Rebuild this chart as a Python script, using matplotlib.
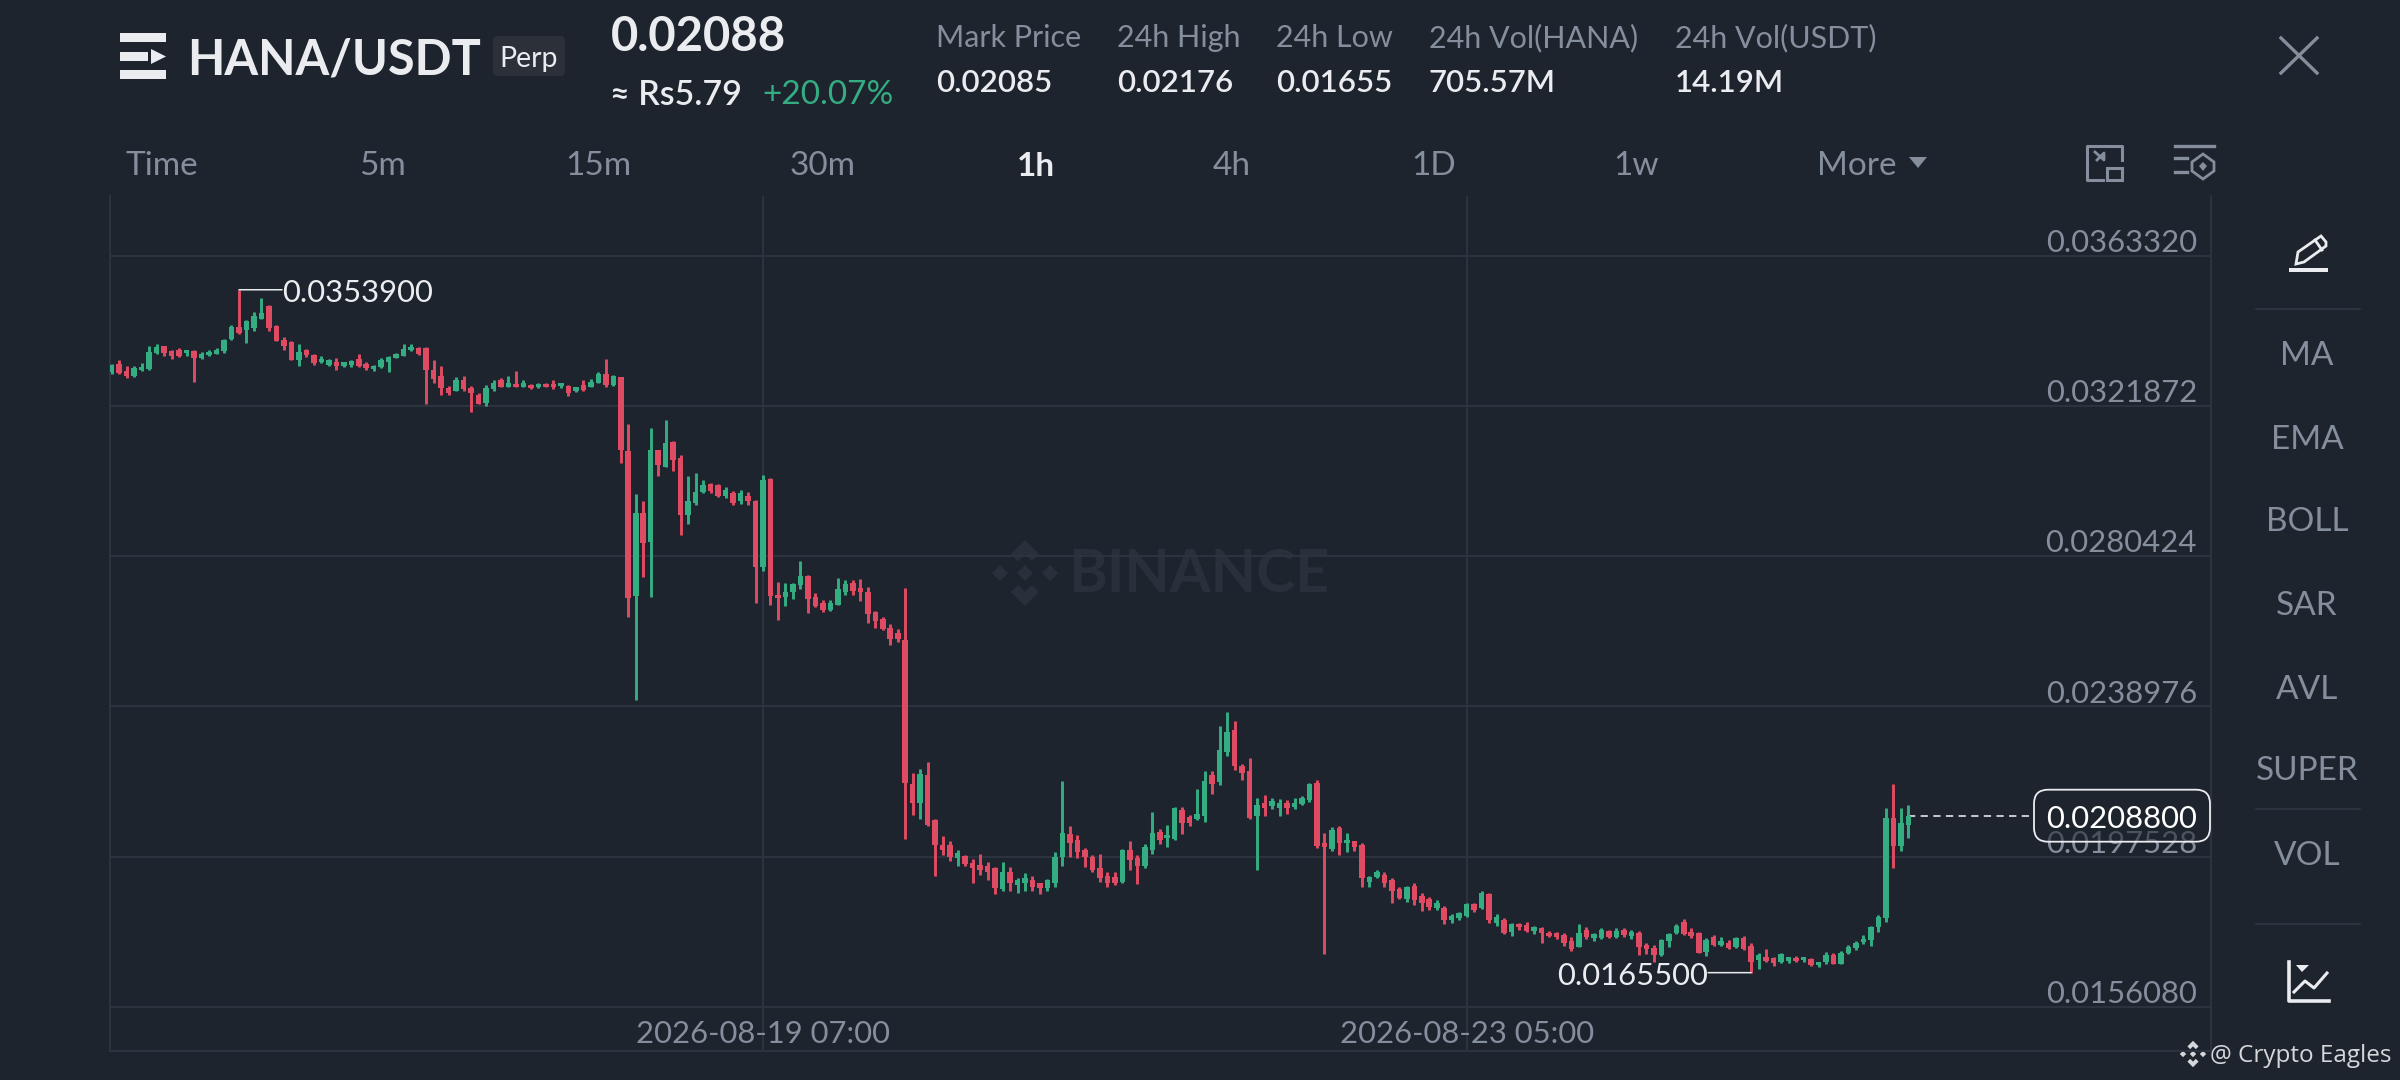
import numpy as np
import matplotlib
matplotlib.use("Agg")
import matplotlib.pyplot as plt
from matplotlib.patches import FancyBboxPatch, Polygon, Rectangle

plt.rcParams['font.family'] = ['Lato', 'DejaVu Sans']

# candle values, in units of 0.00001 USDT
opens = [
    3311,3335,3314,3302,3317,3320,3364,3383,3369,3372,
    3364,3369,3351,3359,3363,3369,3403,3435,3429,3433,
    3458,3493,3438,3401,3395,3344,3372,3360,3339,3332,
    3341,3329,3332,3348,3335,3320,3326,3341,3352,3357,
    3372,3377,3377,3318,3300,3268,3261,3291,3268,3249,
    3226,3265,3289,3271,3280,3272,3277,3271,3280,3280,
    3274,3274,3260,3277,3272,3283,3307,3277,3298,3093,
    2694,2924,2842,3096,3051,3119,3074,2918,2950,2980,
    3003,3000,2969,2978,2955,2969,2956,2775,3016,2697,
    2691,2705,2725,2750,2691,2674,2656,2670,2706,2729,
    2717,2706,2649,2630,2605,2591,2573,2176,2122,2201,
    2075,2007,2007,1971,1977,1957,1952,1948,1943,1885,
    1934,1897,1902,1911,1902,1888,1902,1975,2038,2021,
    1994,1973,1943,1922,1920,1906,1992,1972,1948,1994,
    2044,2026,2023,2104,2084,2078,2087,2201,2182,2265,
    2325,2224,2210,2087,2122,2115,2109,2124,2111,2120,
    2132,2178,2012,1995,2053,2012,2017,2007,1906,1918,
    1925,1911,1885,1857,1894,1867,1857,1833,1834,1800,
    1805,1810,1845,1833,1872,1793,1800,1768,1789,1787,
    1771,1777,1764,1764,1759,1741,1727,1773,1750,1750,
    1770,1754,1773,1756,1764,1731,1722,1704,1741,1764,
    1796,1768,1765,1713,1754,1730,1736,1725,1750,1729,
    1690,1699,1695,1685,1687,1696,1690,1692,1676,1685,
    1703,1680,1708,1722,1740,1745,1782,1805,2081,2004,2062,
]
closes = [
    3331,3309,3300,3322,3326,3366,3381,3364,3357,3355,
    3372,3351,3363,3368,3374,3401,3435,3421,3452,3466,
    3475,3433,3398,3383,3346,3366,3360,3337,3348,3344,
    3328,3339,3343,3329,3323,3329,3346,3353,3362,3375,
    3380,3363,3317,3294,3268,3254,3291,3265,3254,3225,
    3268,3283,3272,3283,3272,3283,3268,3280,3271,3270,
    3282,3254,3271,3263,3285,3307,3276,3302,3097,2688,
    2924,2840,3097,3056,3116,3068,2918,2957,2980,3001,
    2985,2969,2987,2950,2978,2955,2774,3015,2693,2688,
    2704,2728,2748,2685,2667,2656,2674,2713,2728,2709,
    2705,2645,2624,2602,2575,2575,2178,2122,2203,2063,
    2007,1994,1975,1984,1955,1943,1938,1934,1888,1934,
    1902,1911,1915,1892,1888,1911,1975,2040,2012,1989,
    1973,1938,1915,1903,1902,1992,1966,1949,2001,2040,
    2021,2035,2109,2067,2069,2093,2185,2176,2270,2320,
    2224,2205,2081,2118,2109,2129,2124,2109,2124,2136,
    2176,2005,2003,2049,2012,2021,2003,1915,1918,1934,
    1902,1879,1860,1891,1856,1846,1835,1848,1799,1810,
    1819,1845,1828,1874,1800,1808,1765,1789,1780,1771,
    1780,1764,1756,1753,1736,1719,1764,1753,1762,1773,
    1754,1771,1758,1767,1727,1719,1704,1745,1762,1785,
    1762,1756,1710,1745,1730,1741,1722,1750,1719,1685,
    1704,1688,1681,1706,1697,1687,1697,1676,1684,1704,
    1680,1710,1726,1738,1749,1780,1809,2081,2004,2067,2088,
]
highs = [
    3335,3346,3329,3329,3337,3383,3390,3385,3374,3378,
    3374,3372,3366,3372,3379,3403,3443,3539,3456,3478,
    3515,3498,3443,3409,3397,3390,3376,3363,3355,3348,
    3351,3341,3346,3363,3341,3332,3351,3355,3364,3390,
    3390,3381,3380,3346,3329,3274,3298,3302,3274,3254,
    3276,3291,3296,3300,3314,3289,3280,3282,3283,3289,
    3283,3277,3272,3289,3293,3311,3349,3305,3298,3169,
    2976,2955,3157,3097,3180,3122,3082,3026,3033,3015,
    3007,3004,2994,2985,2987,2980,2958,3027,3021,2732,
    2729,2729,2792,2751,2702,2682,2683,2745,2737,2737,
    2740,2720,2653,2637,2617,2602,2716,2205,2216,2237,
    2078,2032,2017,1994,1980,1968,1982,1960,1946,1961,
    1946,1917,1929,1922,1903,1914,1987,2185,2060,2035,
    1998,1980,1982,1934,1934,1995,2017,1980,2009,2098,
    2051,2061,2111,2111,2090,2161,2211,2210,2336,2374,
    2348,2231,2247,2136,2145,2138,2134,2130,2138,2143,
    2179,2187,2041,2058,2060,2040,2019,2012,1922,1938,
    1932,1915,1892,1894,1903,1874,1865,1856,1839,1817,
    1823,1848,1848,1881,1876,1817,1805,1793,1791,1794,
    1785,1780,1771,1767,1765,1753,1788,1780,1765,1779,
    1773,1779,1779,1773,1769,1736,1730,1747,1765,1788,
    1802,1777,1768,1750,1759,1752,1745,1754,1756,1736,
    1710,1719,1699,1710,1699,1701,1699,1695,1685,1713,
    1710,1714,1730,1742,1759,1783,1813,2110,2176,2108,2117,
]
lows = [
    3307,3307,3295,3298,3315,3318,3361,3355,3349,3353,
    3355,3285,3348,3357,3361,3364,3401,3418,3392,3426,
    3458,3424,3397,3374,3344,3328,3353,3332,3337,3328,
    3317,3326,3326,3326,3317,3314,3323,3311,3350,3355,
    3370,3360,3225,3283,3249,3248,3260,3261,3201,3223,
    3219,3259,3271,3270,3270,3270,3265,3269,3270,3266,
    3268,3247,3256,3261,3271,3282,3272,3274,3062,2636,
    2406,2746,2691,3026,3050,3040,2862,2893,2944,2977,
    2978,2967,2965,2945,2949,2945,2674,2764,2669,2628,
    2667,2685,2713,2647,2665,2651,2654,2668,2698,2698,
    2681,2621,2607,2600,2560,2567,2023,2090,2078,2060,
    1922,1980,1963,1949,1950,1902,1925,1911,1871,1879,
    1879,1874,1879,1879,1872,1881,1892,1950,1975,1972,
    1946,1934,1904,1891,1897,1903,1938,1900,1943,1983,
    2009,2003,2021,2038,2060,2076,2072,2148,2173,2253,
    2213,2187,2078,1938,2087,2106,2087,2093,2106,2118,
    2127,2000,1706,1991,1980,1987,1991,1892,1892,1915,
    1892,1848,1858,1851,1841,1826,1828,1828,1789,1791,
    1800,1808,1821,1831,1793,1785,1762,1756,1773,1767,
    1762,1738,1754,1749,1729,1715,1725,1749,1743,1748,
    1751,1751,1754,1749,1704,1707,1685,1702,1725,1762,
    1759,1750,1708,1701,1729,1729,1720,1722,1718,1655,
    1664,1684,1672,1681,1681,1685,1684,1673,1670,1679,
    1678,1679,1706,1717,1734,1728,1766,1795,1943,1991,2027,
]

price_ticks = [0.0363320, 0.0321872, 0.0280424, 0.0238976, 0.0197528, 0.0156080]
time_labels = ['2026-08-19 07:00', '2026-08-23 05:00']
time_hours = [0, 94]   # hours from the first date label
first_hour = -87       # the first candle, relative to the same label
last_price = 0.0208800

tabs = ['Time', '5m', '15m', '30m', '1h', '4h', '1D', '1w', 'More']
tab_x = [162, 383, 598, 823, 1036, 1232, 1434, 1636, 1857]
stat_names = ['Mark Price', '24h High', '24h Low', '24h Vol(HANA)', '24h Vol(USDT)']
stat_values = ['0.02085', '0.02176', '0.01655', '705.57M', '14.19M']
stat_x = [936, 1117, 1276, 1429, 1675]
indicators = ['MA', 'EMA', 'BOLL', 'SAR', 'AVL', 'SUPER', 'VOL']
indicator_y = [356, 440, 522, 606, 690, 771, 856]

BG = '#1e242e'
GRID = '#2e3440'
MUTED = '#848e9c'
WHITE = '#eaecef'
UP = '#35ad83'
DOWN = '#df4b62'
NUM_SIZE = 22.3

W, H = 2400, 1080
fig = plt.figure(figsize=(24, 10.8), dpi=100, facecolor=BG)

# screen furniture is laid out in pixels on a full-figure axes
ui = fig.add_axes([0, 0, 1, 1], zorder=0)
ui.set_xlim(0, W)
ui.set_ylim(H, 0)
ui.axis('off')

# chart axes: 110..2211 px across, 196..1050.7 px down
left, right, top, bottom = 110, 2211, 196, 1050.7
ax = fig.add_axes([left / W, 1 - bottom / H, (right - left) / W, (bottom - top) / H], zorder=1)
ax.patch.set_alpha(0)

px_per_hour = 7.486
px_per_price = 150.24 / 0.0041448
x0 = 763
y0 = 255.6
ax.set_xlim((left - x0) / px_per_hour, (right - x0) / px_per_hour)
ax.set_ylim(price_ticks[0] - (bottom - y0) / px_per_price, price_ticks[0] + (y0 - top) / px_per_price)

ax.set_yticks(price_ticks)
ax.set_xticks(time_hours)
ax.grid(True, color=GRID, lw=1.3)
ax.set_axisbelow(True)
ax.tick_params(length=0, labelleft=False, labelbottom=False)
for s in ['left', 'right', 'bottom']:
    ax.spines[s].set_color(GRID)
    ax.spines[s].set_linewidth(1.3)
ax.spines['top'].set_visible(False)

for p in price_ticks:
    ax.annotate(f'{p:.7f}', xy=(1, p), xycoords=('axes fraction', 'data'), xytext=(-10, 9.2),
                textcoords='offset points', ha='right', va='center', color=MUTED, fontsize=NUM_SIZE)
for h, lab in zip(time_hours, time_labels):
    ax.annotate(lab, xy=(h, 0), xycoords=('data', 'axes fraction'), xytext=(0, 12),
                textcoords='offset points', ha='center', va='center', color=MUTED, fontsize=NUM_SIZE)


def logo(target, cx, cy, s, color):
    # five part exchange mark, s=1 spans about 66 px
    parts = [[(0, -33), (14, -19), (7, -12), (0, -19), (-7, -12), (-14, -19)],
             [(-25, -8), (-17, 0), (-25, 8), (-33, 0)],
             [(25, -8), (33, 0), (25, 8), (17, 0)],
             [(0, -8), (8, 0), (0, 8), (-8, 0)],
             [(0, 33), (-14, 19), (-7, 12), (0, 19), (7, 12), (14, 19)]]
    for part in parts:
        target.add_patch(Polygon([(cx + a * s, cy + b * s) for a, b in part], closed=True, fc=color, ec='none'))


# watermark behind the candles
ui.text(1199, 575, 'BINANCE', color='#2a303b', fontsize=42.5, fontweight='bold', ha='center', va='center')
logo(ui, 1025, 573, 1.0, '#2a303b')

o = np.array(opens) * 1e-5
c = np.array(closes) * 1e-5
hi = np.array(highs) * 1e-5
lo = np.array(lows) * 1e-5
t = first_hour + np.arange(len(o))
cols = [UP if cc >= oo else DOWN for oo, cc in zip(o, c)]

ax.vlines(t, lo, hi, colors=cols, lw=2.1, zorder=3)
ax.bar(t, np.maximum(np.abs(c - o), 0.00004), bottom=np.minimum(o, c), width=0.74, color=cols, zorder=3)

# highest and lowest price tags
i_hi = int(np.argmax(hi))
ax.annotate('', xy=(t[i_hi], hi[i_hi]), xytext=(31, 0), textcoords='offset points',
            arrowprops=dict(arrowstyle='-', color=WHITE, lw=1.1, shrinkA=0, shrinkB=0))
ax.annotate(f'{hi[i_hi]:.7f}', xy=(t[i_hi], hi[i_hi]), xytext=(31, -2.2), textcoords='offset points',
            color=WHITE, fontsize=NUM_SIZE, ha='left', va='center')
i_lo = int(np.argmin(lo))
ax.annotate('', xy=(t[i_lo], lo[i_lo]), xytext=(-31, 0), textcoords='offset points',
            arrowprops=dict(arrowstyle='-', color=WHITE, lw=1.1, shrinkA=0, shrinkB=0))
ax.annotate(f'{lo[i_lo]:.7f}', xy=(t[i_lo], lo[i_lo]), xytext=(-31, -2.2), textcoords='offset points',
            color=WHITE, fontsize=NUM_SIZE, ha='right', va='center')

# last price line and tag
ax.plot([t[-1], (2030 - x0) / px_per_hour], [last_price, last_price], color='#d5d8dc', lw=1.3,
        dashes=(4, 3), zorder=2)
y_last = y0 + (price_ticks[0] - last_price) * px_per_price
over = fig.add_axes([0, 0, 1, 1], zorder=2)
over.set_xlim(0, W)
over.set_ylim(H, 0)
over.axis('off')
over.add_patch(FancyBboxPatch((2034, y_last - 26), 176, 52, boxstyle='round,pad=0,rounding_size=14',
                              fc=BG, ec='none', alpha=0.55))
over.add_patch(FancyBboxPatch((2034, y_last - 26), 176, 52, boxstyle='round,pad=0,rounding_size=14',
                              fc='none', ec=WHITE, lw=1.3))
over.text(2197, y_last + 3, f'{last_price:.7f}', color='white', fontsize=NUM_SIZE, ha='right', va='center')

# header
for y_, h_ in [(33, 9), (70, 9)]:
    ui.add_patch(Rectangle((120, y_), 46, h_, fc=WHITE, ec='none'))
ui.add_patch(Rectangle((120, 52), 28, 9, fc=WHITE, ec='none'))
ui.add_patch(Polygon([(151, 49), (166, 56.5), (151, 64)], closed=True, fc=WHITE, ec='none'))
ui.text(187, 60, 'HANA/USDT', color=WHITE, fontsize=35, fontweight='bold', ha='left', va='center')
ui.add_patch(FancyBboxPatch((493, 36), 72, 40, boxstyle='round,pad=0,rounding_size=5', fc='#2b3039', ec='none'))
ui.text(529, 59, 'Perp', color=WHITE, fontsize=20.5, ha='center', va='center')
ui.text(611, 37, '0.02088', color=WHITE, fontsize=34, fontweight='bold', ha='left', va='center')
ui.text(610, 95, '≈ Rs5.79', color=WHITE, fontsize=24.5, fontweight='semibold', ha='left', va='center')
ui.text(762, 95, '+20.07%', color=UP, fontsize=24, ha='left', va='center')

for name, val, x in zip(stat_names, stat_values, stat_x):
    ui.text(x, 38, name, color=MUTED, fontsize=22, ha='left', va='center')
    ui.text(x, 83, val, color=WHITE, fontsize=22.5, fontweight='semibold', ha='left', va='center')

for name, x in zip(tabs, tab_x):
    active = name == '1h'
    ui.text(x, 166, name, color=WHITE if active else MUTED, fontsize=24, ha='center', va='center',
            fontweight='bold' if active else 'normal')
ui.add_patch(Polygon([(1909, 157), (1927, 157), (1918, 168)], closed=True, fc=MUTED, ec='none'))

# close cross
ui.plot([2281, 2317], [38, 73], color=MUTED, lw=2.4)
ui.plot([2281, 2317], [73, 38], color=MUTED, lw=2.4)

# the two toolbar icons
ui.plot([2122, 2122, 2087, 2087, 2103], [160, 146, 146, 180, 180], color=MUTED, lw=2.2)
ui.add_patch(Rectangle((2107, 168), 15, 12, fc='none', ec=MUTED, lw=2.2))
ui.plot([2095, 2104, 2104, 2097], [152, 160, 153, 160], color=MUTED, lw=2)
ui.plot([2175, 2214], [146, 146], color=MUTED, lw=2.4)
ui.plot([2175, 2187], [158, 158], color=MUTED, lw=2.4)
ui.plot([2175, 2187], [172, 172], color=MUTED, lw=2.4)
ui.add_patch(Polygon([(2203, 154), (2214, 162), (2214, 171), (2203, 179), (2192, 171), (2192, 162)], closed=True,
                     fc='none', ec=MUTED, lw=2))
ui.add_patch(Polygon([(2203, 162), (2207, 166), (2203, 171), (2199, 166)], closed=True, fc=MUTED, ec='none'))

# right hand panel
for name, y in zip(indicators, indicator_y):
    ui.text(2307, y, name, color=MUTED, fontsize=24, ha='center', va='center')
for y in [309, 809, 924]:
    ui.plot([2256, 2360], [y, y], color=GRID, lw=1.3)

# pencil
ui.add_patch(Rectangle((2289, 268), 39, 3.5, fc=WHITE, ec='none'))
ui.add_patch(Polygon([(2296, 264), (2298, 252), (2321, 236), (2326, 242), (2326, 246), (2304, 262)], closed=True,
                     fc='none', ec=WHITE, lw=2))
ui.plot([2315, 2322], [240, 250], color=WHITE, lw=2)

# chart icon at the bottom right
ui.plot([2289, 2289, 2329], [962, 1001, 1001], color=WHITE, lw=2.6)
ui.plot([2294, 2305, 2314, 2327], [992, 981, 988, 973], color=WHITE, lw=2.2)
ui.add_patch(Polygon([(2296, 965), (2309, 965), (2302, 972)], closed=True, fc=WHITE, ec='none'))

# footer credit
ui.text(2391, 1056, '@ Crypto Eagles', color='#d5d7da', fontsize=17.5, ha='right', va='center',
        family=['Open Sans', 'DejaVu Sans'])
logo(ui, 2193, 1054, 0.4, '#d5d7da')

fig.savefig('out.png', dpi=100, facecolor=BG)
